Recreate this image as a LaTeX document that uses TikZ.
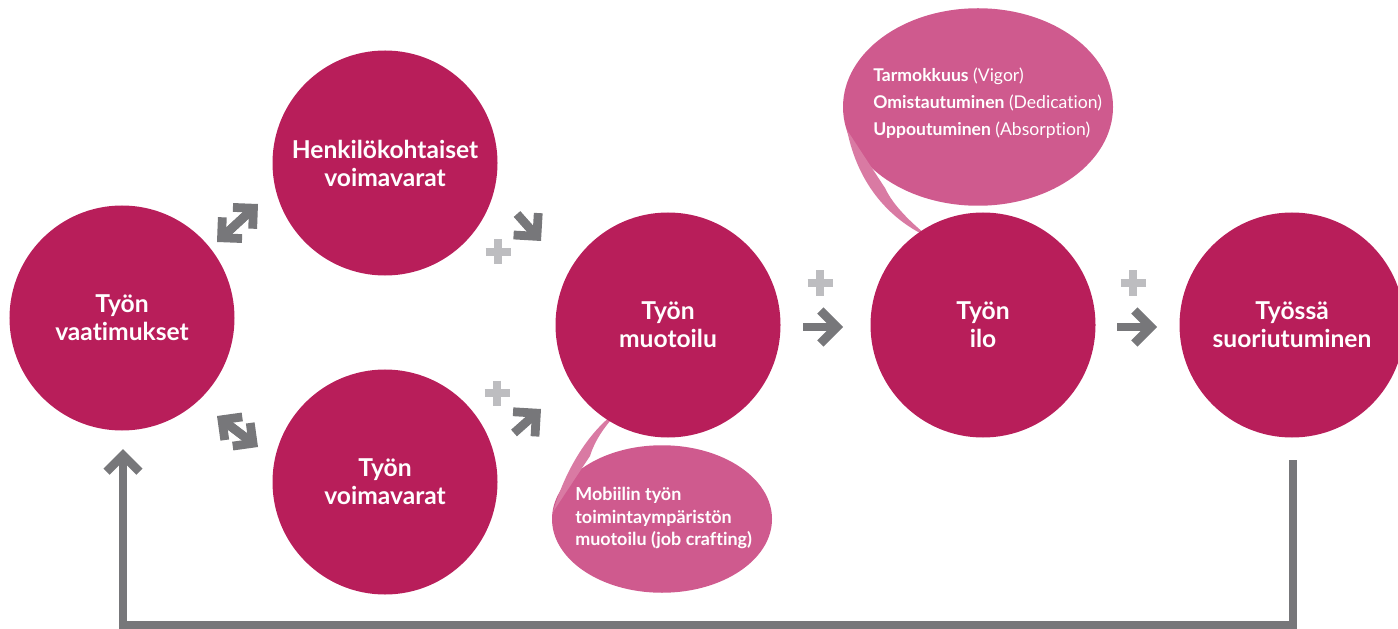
\documentclass[tikz,border=0pt]{standalone}
\usepackage{fontspec}
\setmainfont{Lato}[Ligatures=NoCommon]
\usetikzlibrary{arrows.meta,shapes.geometric,calc}

\definecolor{ilopink}{HTML}{B81E5A}
\definecolor{kuplapink}{HTML}{CF5A8E}
\definecolor{hantapink}{HTML}{D97AA3}
\definecolor{nuoliharmaa}{HTML}{77777A}
\definecolor{plusharmaa}{HTML}{BDBDC0}

\begin{document}
\begin{tikzpicture}[x=0.2mm,y=-0.2mm]
   \tikzstyle{pallo}=[circle, fill=ilopink, minimum size=4.5cm, inner sep=0pt, text=white, align=center, font=\bfseries\fontsize{14}{15.9}\selectfont]
   \tikzstyle{kupla}=[ellipse, fill=kuplapink, inner sep=0pt]
   \tikzstyle{kuplateksti}=[text=white, align=left, anchor=west, inner sep=0pt]
   \tikzstyle{runko}=[draw=nuoliharmaa, line width=5pt]
   \tikzstyle{nuoli}=[runko, -{Straight Barb[length=3.3mm, width=6.6mm]}]
   \tikzstyle{pikkunuoli}=[runko, -{Straight Barb[length=2.9mm, width=5.8mm]}]
   \tikzstyle{plussa}=[draw=plusharmaa, line width=4.5pt]

\useasboundingbox (0,0) rectangle (1398,629);

% puhekuplat
\node[kupla, minimum width=5.4cm, minimum height=3.95cm] (ilokupla) at (978,107) {};
\fill[hantapink] (847,130) .. controls (858,185) and (890,220) .. (930,238)
    .. controls (910,222) and (893,205) .. (885,188) -- cycle;
\node[kuplateksti, font=\fontsize{10}{15.3}\selectfont] (ilokuplateksti) at (873,103)
    {\textbf{Tarmokkuus} (Vigor)\\\textbf{Omistautuminen} (Dedication)\\\textbf{Uppoutuminen} (Absorption)};

\node[kupla, minimum width=4.4cm, minimum height=2.95cm] (muotokupla) at (662,519) {};
\fill[hantapink] (553,512) .. controls (565,470) and (590,428) .. (622,408)
    .. controls (605,425) and (595,440) .. (590,456) -- cycle;
\node[kuplateksti, font=\bfseries\fontsize{10.2}{12.8}\selectfont] (muotokuplateksti) at (575,518)
    {Mobiilin työn\\toimintaympäristön\\muotoilu (job crafting)};

% pallot
\node[pallo] (vaatimukset) at (122,318) {Työn\\vaatimukset};
\node[pallo] (henk) at (385,163) {Henkilökohtaiset\\voimavarat};
\node[pallo] (voimavarat) at (385,482) {Työn\\voimavarat};
\node[pallo] (muotoilu) at (668,325) {Työn\\muotoilu};
\node[pallo] (ilo) at (983,325) {Työn\\ilo};
\node[pallo] (suoritus) at (1292,325) {Työssä\\suoriutuminen};

% nuolet
\coordinate (n1a) at (217,242); \coordinate (n1b) at (258,204);
\coordinate (n2a) at (217,416); \coordinate (n2b) at (258,447);
\coordinate (n3a) at (517,214); \coordinate (n3b) at (541,241);
\coordinate (n4a) at (514,433); \coordinate (n4b) at (541,409);
\coordinate (n5a) at (803,327); \coordinate (n5b) at (843,327);
\coordinate (n6a) at (1117,327); \coordinate (n6b) at (1157,327);
\coordinate (paluu) at (1293,460);
\coordinate (paluukarki) at (123,449);
\coordinate (n1m) at ($(n1a)!0.5!(n1b)$);
\coordinate (n2m) at ($(n2a)!0.5!(n2b)$);

\draw[runko, shorten <=4pt, shorten >=4pt] (n1a) -- (n1b);
\draw[pikkunuoli] (n1m) -- (n1a);
\draw[pikkunuoli] (n1m) -- (n1b);
\draw[runko, shorten <=4pt, shorten >=4pt] (n2a) -- (n2b);
\draw[pikkunuoli] (n2m) -- (n2a);
\draw[pikkunuoli] (n2m) -- (n2b);
\draw[nuoli] (n3a) -- (n3b);
\draw[nuoli] (n4a) -- (n4b);
\draw[nuoli] (n5a) -- (n5b);
\draw[nuoli] (n6a) -- (n6b);
\draw[nuoli] (paluu) |- (123,625) -- (paluukarki);

% plussat
\foreach \x/\y in {498/252, 497/393, 820/283, 1133/283}
    \draw[plussa] (\x-12.5,\y) -- (\x+12.5,\y) (\x,\y-12.5) -- (\x,\y+12.5);

\end{tikzpicture}
\end{document}
